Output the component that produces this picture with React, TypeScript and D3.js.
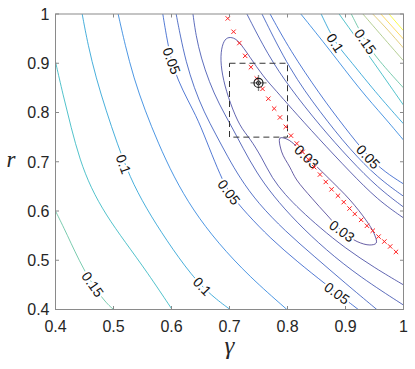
import React, { useEffect, useRef } from 'react'
import * as d3 from 'd3'

const WIDTH = 415
const HEIGHT = 369

const gammaTicks = [0.4, 0.5, 0.6, 0.7, 0.8, 0.9, 1]
const rTicks = [0.4, 0.5, 0.6, 0.7, 0.8, 0.9, 1]

// contour lines, [gamma, r] pairs
const c030 = [[0.953, 0.535], [0.949, 0.555], [0.935, 0.582], [0.908, 0.622], [0.868, 0.670], [0.833, 0.710], [0.815, 0.732], [0.799, 0.746], [0.787, 0.748], [0.790, 0.720], [0.804, 0.689], [0.816, 0.663], [0.842, 0.626], [0.868, 0.592], [0.894, 0.559], [0.920, 0.538], [0.942, 0.531]]
const c035 = [[1, 0.450], [0.951, 0.484], [0.899, 0.525], [0.856, 0.566], [0.822, 0.602], [0.796, 0.633], [0.773, 0.667], [0.756, 0.708], [0.735, 0.748], [0.718, 0.771], [0.701, 0.819], [0.689, 0.866], [0.684, 0.907], [0.687, 0.937], [0.694, 0.952], [0.704, 0.953], [0.715, 0.947], [0.735, 0.913], [0.758, 0.873], [0.782, 0.842], [0.804, 0.812], [0.853, 0.748], [0.908, 0.679], [0.956, 0.622], [1, 0.586]]
const c040left = [[0.637, 1], [0.642, 0.957], [0.651, 0.911], [0.665, 0.862], [0.682, 0.817], [0.703, 0.773], [0.723, 0.728], [0.746, 0.679], [0.775, 0.631], [0.815, 0.578], [0.866, 0.521], [0.925, 0.466], [1, 0.409]]
const c040right = [[0.730, 1], [0.766, 0.917], [0.804, 0.850], [0.856, 0.773], [0.908, 0.704], [0.956, 0.647], [1, 0.608]]
const c045left = [[0.608, 1], [0.615, 0.957], [0.625, 0.903], [0.639, 0.850], [0.656, 0.801], [0.677, 0.754], [0.697, 0.710], [0.718, 0.667], [0.749, 0.616], [0.796, 0.559], [0.847, 0.507], [0.899, 0.454], [0.954, 0.4]]
const c045right = [[0.756, 1], [0.804, 0.886], [0.856, 0.801], [0.908, 0.724], [0.956, 0.667], [1, 0.630]]
const c050left = [[0.585, 1], [0.591, 0.957], [0.599, 0.907], [0.611, 0.866], [0.628, 0.825], [0.646, 0.785], [0.665, 0.728], [0.684, 0.673], [0.699, 0.637], [0.730, 0.594], [0.770, 0.545], [0.818, 0.496], [0.865, 0.452], [0.922, 0.4]]
const c050right = [[0.770, 1], [0.804, 0.927], [0.856, 0.836], [0.899, 0.769], [0.939, 0.710], [0.968, 0.679], [1, 0.655]]
const c075left = [[0.508, 1], [0.520, 0.937], [0.535, 0.870], [0.554, 0.805], [0.577, 0.738], [0.604, 0.669], [0.637, 0.602], [0.680, 0.535], [0.735, 0.466], [0.799, 0.4]]
const c075right = [[0.823, 1], [0.873, 0.927], [0.925, 0.846], [0.968, 0.789], [1, 0.744]]
const c100left = [[0.446, 1], [0.456, 0.937], [0.470, 0.870], [0.487, 0.805], [0.506, 0.738], [0.528, 0.669], [0.556, 0.606], [0.591, 0.541], [0.635, 0.468], [0.670, 0.427], [0.701, 0.4]]
const c100right = [[0.858, 1], [0.882, 0.941], [0.903, 0.913], [0.951, 0.842], [1, 0.777]]
const c125left = [[0.4, 0.903], [0.413, 0.836], [0.427, 0.769], [0.442, 0.704], [0.461, 0.647], [0.487, 0.592], [0.520, 0.537], [0.558, 0.476], [0.601, 0.4]]
const c125right = [[0.889, 1], [0.942, 0.913], [1, 0.815]]
const c150left = [[0.4, 0.600], [0.419, 0.555], [0.448, 0.480], [0.482, 0.419], [0.500, 0.4]]
const c150right = [[0.910, 1], [0.934, 0.944], [0.956, 0.907], [1, 0.850]]
const c175 = [[0.930, 1], [0.963, 0.955], [1, 0.905]]
const c200 = [[0.947, 1], [0.973, 0.968], [1, 0.931]]
const c225 = [[0.961, 1], [1, 0.949]]
const c250 = [[0.975, 1], [1, 0.966]]

const contourLines = [
  { level: 0.03, pts: c030, closed: true },
  { level: 0.035, pts: c035 },
  { level: 0.04, pts: c040left }, { level: 0.04, pts: c040right },
  { level: 0.045, pts: c045left }, { level: 0.045, pts: c045right },
  { level: 0.05, pts: c050left }, { level: 0.05, pts: c050right },
  { level: 0.075, pts: c075left }, { level: 0.075, pts: c075right },
  { level: 0.1, pts: c100left }, { level: 0.1, pts: c100right },
  { level: 0.125, pts: c125left }, { level: 0.125, pts: c125right },
  { level: 0.15, pts: c150left }, { level: 0.15, pts: c150right },
  { level: 0.175, pts: c175 },
  { level: 0.2, pts: c200 },
  { level: 0.225, pts: c225 },
  { level: 0.25, pts: c250 },
]

// inline labels: text, [gamma, r], angle
const contourLabels = [
  { text: '0.05', at: [0.600, 0.905], angle: 70 },
  { text: '0.05', at: [0.699, 0.638], angle: 53 },
  { text: '0.05', at: [0.885, 0.433], angle: 36 },
  { text: '0.05', at: [0.939, 0.710], angle: 47 },
  { text: '0.03', at: [0.833, 0.710], angle: 43 },
  { text: '0.03', at: [0.894, 0.559], angle: 36 },
  { text: '0.1', at: [0.517, 0.695], angle: 70 },
  { text: '0.1', at: [0.653, 0.447], angle: 46 },
  { text: '0.1', at: [0.882, 0.941], angle: 57 },
  { text: '0.15', at: [0.464, 0.451], angle: 55 },
  { text: '0.15', at: [0.934, 0.944], angle: 55 },
]

// estimates along the valley
const gammaEst = [0.697, 0.707, 0.717, 0.727, 0.737, 0.747, 0.757, 0.767, 0.777, 0.787, 0.797, 0.806, 0.816, 0.826, 0.836, 0.846, 0.856, 0.866, 0.876, 0.887, 0.897, 0.907, 0.916, 0.927, 0.937, 0.947, 0.957, 0.967, 0.977, 0.987]
const rEst = [0.991, 0.964, 0.941, 0.915, 0.892, 0.869, 0.848, 0.828, 0.808, 0.790, 0.771, 0.753, 0.737, 0.720, 0.705, 0.689, 0.674, 0.659, 0.644, 0.631, 0.618, 0.605, 0.594, 0.582, 0.570, 0.560, 0.548, 0.538, 0.528, 0.517]

const trueGamma = 0.75
const trueR = 0.86
const boxGamma = [0.7, 0.8]
const boxR = [0.75, 0.9]

const parula = ['#352a87', '#0f5cdd', '#1481d6', '#06a4ca', '#2eb7a4', '#87bf77', '#d1bb59', '#fec832', '#f9fb0e']

export default function App() {
  const ref = useRef<SVGSVGElement>(null)

  useEffect(() => {
    const svg = d3.select(ref.current)
    svg.selectAll('*').remove()

    const x = d3.scaleLinear().domain([0.4, 1]).range([55.5, 403.5])
    const y = d3.scaleLinear().domain([0.4, 1]).range([309.5, 14])
    const colour = d3.scaleSequential(d3.piecewise(d3.interpolateRgb, parula)).domain([0.03, 0.25])
    const axisCol = '#262626'
    const frameCol = '#8a8a8a'
    const sans = 'Liberation Sans, Arial, Helvetica, sans-serif'
    const serif = 'Liberation Serif, Times New Roman, serif'

    svg.append('rect').attr('width', WIDTH).attr('height', HEIGHT).attr('fill', '#fff')

    svg.append('clipPath').attr('id', 'plotclip')
      .append('rect')
      .attr('x', x(0.4)).attr('y', y(1))
      .attr('width', x(1) - x(0.4)).attr('height', y(0.4) - y(1))

    const plot = svg.append('g').attr('clip-path', 'url(#plotclip)')

    const line = d3.line<number[]>().x(d => x(d[0])).y(d => y(d[1])).curve(d3.curveBasis)
    const closedLine = d3.line<number[]>().x(d => x(d[0])).y(d => y(d[1])).curve(d3.curveCatmullRomClosed.alpha(0.5))

    plot.selectAll('.contour')
      .data(contourLines)
      .enter()
      .append('path')
      .attr('class', 'contour')
      .attr('d', d => (d.closed ? closedLine(d.pts) : line(d.pts)))
      .attr('fill', 'none')
      .attr('stroke', d => colour(d.level))
      .attr('stroke-width', 0.75)

    // labels cut the lines with a white halo
    plot.selectAll('.clabel')
      .data(contourLabels)
      .enter()
      .append('text')
      .attr('class', 'clabel')
      .attr('transform', d => `translate(${x(d.at[0])},${y(d.at[1])}) rotate(${d.angle})`)
      .attr('text-anchor', 'middle')
      .attr('dy', '0.35em')
      .attr('font-family', sans)
      .attr('font-size', 14)
      .attr('fill', '#111')
      .attr('stroke', '#fff')
      .attr('stroke-width', 4)
      .attr('paint-order', 'stroke')
      .text(d => d.text)

    // dashed box
    plot.append('rect')
      .attr('x', x(boxGamma[0])).attr('y', y(boxR[1]))
      .attr('width', x(boxGamma[1]) - x(boxGamma[0]))
      .attr('height', y(boxR[0]) - y(boxR[1]))
      .attr('fill', 'none')
      .attr('stroke', '#333')
      .attr('stroke-width', 1)
      .attr('stroke-dasharray', '6,4')

    // red crosses
    plot.selectAll('.est')
      .data(gammaEst.map((g, i) => [g, rEst[i]]))
      .enter()
      .append('path')
      .attr('class', 'est')
      .attr('transform', d => `translate(${x(d[0])},${y(d[1])})`)
      .attr('d', 'M-2.2,-2.2L2.2,2.2M-2.2,2.2L2.2,-2.2')
      .attr('stroke', '#ff2020')
      .attr('stroke-width', 1)

    // true parameter marker
    const tm = plot.append('g').attr('transform', `translate(${x(trueGamma)},${y(trueR)})`)
    tm.append('path').attr('d', 'M-8,0H8M0,-8V8').attr('stroke', '#808080').attr('stroke-width', 1.3)
    tm.append('circle').attr('r', 4.5).attr('fill', 'none').attr('stroke', '#1a1a1a').attr('stroke-width', 1.2)
    tm.append('circle').attr('r', 2).attr('fill', 'none').attr('stroke', '#1a1a1a').attr('stroke-width', 1)
    tm.append('circle').attr('r', 0.8).attr('fill', '#1a1a1a')

    // axes box and ticks
    const axes = svg.append('g')
    axes.append('rect')
      .attr('x', x(0.4)).attr('y', y(1))
      .attr('width', x(1) - x(0.4)).attr('height', y(0.4) - y(1))
      .attr('fill', 'none').attr('stroke', frameCol).attr('stroke-width', 1)

    const tl = 3.5
    gammaTicks.forEach(v => {
      axes.append('line').attr('x1', x(v)).attr('x2', x(v)).attr('y1', y(0.4)).attr('y2', y(0.4) - tl).attr('stroke', frameCol)
      axes.append('line').attr('x1', x(v)).attr('x2', x(v)).attr('y1', y(1)).attr('y2', y(1) + tl).attr('stroke', frameCol)
    })
    rTicks.forEach(v => {
      axes.append('line').attr('x1', x(0.4)).attr('x2', x(0.4) + tl).attr('y1', y(v)).attr('y2', y(v)).attr('stroke', frameCol)
      axes.append('line').attr('x1', x(1)).attr('x2', x(1) - tl).attr('y1', y(v)).attr('y2', y(v)).attr('stroke', frameCol)
    })

    axes.selectAll('.xt')
      .data(gammaTicks)
      .enter()
      .append('text')
      .attr('x', d => x(d))
      .attr('y', y(0.4) + 22)
      .attr('text-anchor', 'middle')
      .attr('font-family', sans)
      .attr('font-size', 16)
      .attr('fill', axisCol)
      .text(d => String(d))

    axes.selectAll('.yt')
      .data(rTicks)
      .enter()
      .append('text')
      .attr('x', x(0.4) - 6)
      .attr('y', d => y(d) + 5.8)
      .attr('text-anchor', 'end')
      .attr('font-family', sans)
      .attr('font-size', 16)
      .attr('fill', axisCol)
      .text(d => String(d))

    axes.append('text')
      .attr('x', (x(0.4) + x(1)) / 2)
      .attr('y', 354)
      .attr('text-anchor', 'middle')
      .attr('font-family', serif)
      .attr('font-style', 'italic')
      .attr('font-size', 25)
      .attr('fill', axisCol)
      .text('γ')

    axes.append('text')
      .attr('x', 11)
      .attr('y', (y(0.4) + y(1)) / 2 + 5)
      .attr('text-anchor', 'middle')
      .attr('font-family', serif)
      .attr('font-style', 'italic')
      .attr('font-size', 23)
      .attr('fill', axisCol)
      .text('r')
  }, [])

  return (
    <svg
      ref={ref}
      width={WIDTH}
      height={HEIGHT}
      style={{ position: 'absolute', left: 0, top: 0 }}
    />
  )
}
